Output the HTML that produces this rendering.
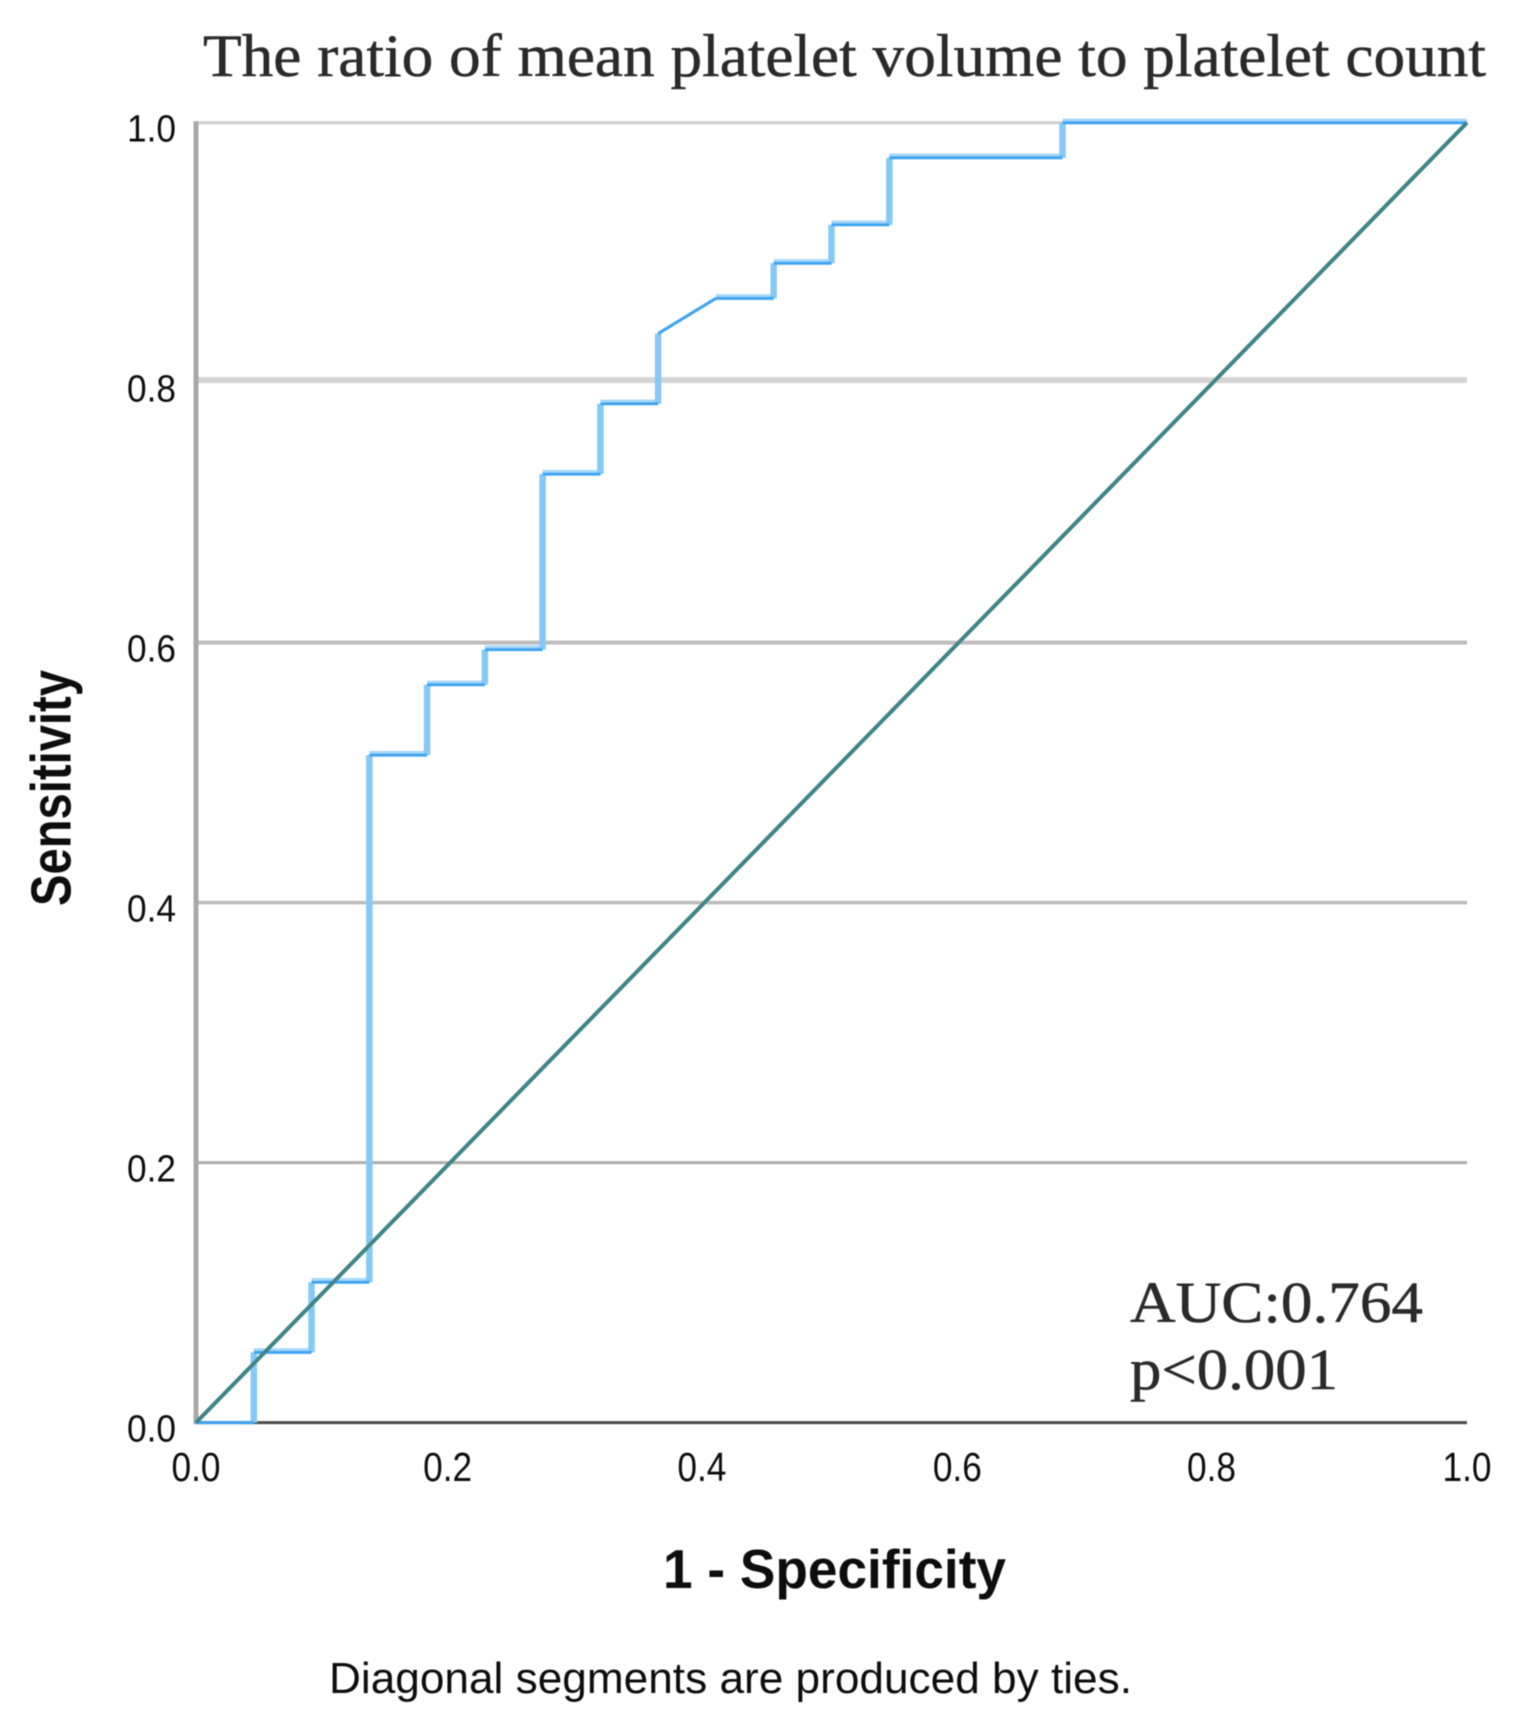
<!DOCTYPE html>
<html>
<head>
<meta charset="utf-8">
<title>ROC curve</title>
<style>
html,body{margin:0;padding:0;background:#fff;}
svg{display:block;}
text{fill:#111;font-family:"Liberation Sans",sans-serif;}
.serif{font-family:"Liberation Serif",serif;fill:#2a2a2a;stroke:#2a2a2a;stroke-width:0.5;}
.bold{font-weight:bold;fill:#0a0a0a;}
.grid{fill:none;}
.grid-0{stroke:#adadad;stroke-width:3;}
.grid-1{stroke:#bcbcbc;stroke-width:3.5;}
.grid-2{stroke:#bdbdbd;stroke-width:4;}
.grid-3{stroke:#d4d4d4;stroke-width:6;}
.grid-4{stroke:#cfcfcf;stroke-width:3;}
.seg-v{stroke:#86c9f6;stroke-width:6.5;}
.seg-h{stroke:#a9d9f8;stroke-width:5.5;}
.seg-core{stroke:#3ea4f0;stroke-width:3;}
</style>
</head>
<body>
<svg id="chart" width="1528" height="1732" viewBox="0 0 1528 1732" xmlns="http://www.w3.org/2000/svg">
  <defs><filter id="soft" x="-5%" y="-5%" width="110%" height="110%"><feGaussianBlur stdDeviation="0.6"/></filter></defs>
  <rect x="0" y="0" width="1528" height="1732" fill="#fff"/>
  <g id="root" filter="url(#soft)">
    <g id="grid"></g>
    <g id="axes"></g>
    <g id="curve"></g>
    <g id="reference"></g>
    <g id="ticks"></g>
    <text class="serif" x="203" y="76" font-size="60" textLength="1283" lengthAdjust="spacingAndGlyphs">The ratio of mean platelet volume to platelet count</text>
    <text class="bold" x="663" y="1588" font-size="55" textLength="343" lengthAdjust="spacingAndGlyphs">1 - Specificity</text>
    <text class="bold" transform="translate(70.5 906) rotate(-90)" x="0" y="0" font-size="57" textLength="236" lengthAdjust="spacingAndGlyphs">Sensitivity</text>
    <text x="329" y="1693" font-size="44" textLength="803" lengthAdjust="spacingAndGlyphs">Diagonal segments are produced by ties.</text>
    <text class="serif" x="1130" y="1322" font-size="58" textLength="293" lengthAdjust="spacingAndGlyphs">AUC:0.764</text>
    <text class="serif" x="1130" y="1389" font-size="58" textLength="208" lengthAdjust="spacingAndGlyphs">p&lt;0.001</text>
  </g>
</svg>
<script>
var curveFpr = [0,0.0455,0.0455,0.0909,0.0909,0.1364,0.1364,0.1818,0.1818,0.2273,0.2273,0.2727,0.2727,0.3182,0.3182,0.3636,0.3636,0.4091,0.4545,0.4545,0.5,0.5,0.5455,0.5455,0.6818,0.6818,1];
var curveTpr = [0,0,0.054,0.054,0.108,0.108,0.5135,0.5135,0.5676,0.5676,0.5946,0.5946,0.7297,0.7297,0.7838,0.7838,0.8378,0.8649,0.8649,0.8919,0.8919,0.9215,0.9215,0.973,0.973,1,1];
var diagonalValues = [0,1];
var gridValues = [0.2,0.4,0.6,0.802,1.0];
var xTickValues = [0,0.198,0.398,0.599,0.799,1];
var xTickLabels = ["0.0","0.2","0.4","0.6","0.8","1.0"];
var yTickValues = [0,0.2,0.4,0.6,0.8,1];
var yTickLabels = ["0.0","0.2","0.4","0.6","0.8","1.0"];

var NS = "http://www.w3.org/2000/svg";
var left = 196, right = 1467, top_ = 122.7, bottom = 1422.6;
function xScale(v){ return left + (right - left) * v; }
function yScale(v){ return bottom - (bottom - top_) * v; }
function make(tag, parent){
  var el = document.createElementNS(NS, tag);
  parent.appendChild(el);
  return el;
}
function line(parent, x1, y1, x2, y2){
  var el = make("line", parent);
  el.setAttribute("x1", x1);
  el.setAttribute("y1", y1);
  el.setAttribute("x2", x2);
  el.setAttribute("y2", y2);
  return el;
}

var gridG = document.getElementById("grid");
gridValues.forEach(function(v, i){
  var g = line(gridG, left, yScale(v), right, yScale(v));
  g.setAttribute("class", "grid grid-" + i);
  
  
});

var axesG = document.getElementById("axes");
var yAxis = line(axesG, left, top_ - 1.5, left, bottom + 1.5);
yAxis.setAttribute("stroke", "#a9a9a9");
yAxis.setAttribute("stroke-width", "5");


var xAxis = line(axesG, left, bottom, right, bottom);
xAxis.setAttribute("stroke", "#4a4a4a");
xAxis.setAttribute("stroke-width", "3");



var curveG = document.getElementById("curve");
var i;
for (i = 0; i < curveFpr.length - 1; i++) {
  var isHorizontal = curveTpr[i] === curveTpr[i+1];
  var isVertical = curveFpr[i] === curveFpr[i+1];
  if (isHorizontal && curveTpr[i] === 0) { continue; }
  var band = line(curveG, xScale(curveFpr[i]), yScale(curveTpr[i]), xScale(curveFpr[i+1]), yScale(curveTpr[i+1]));
  band.setAttribute("class", isVertical ? "seg-v" : "seg-h");
  if (isHorizontal) { band.setAttribute("transform", "translate(0 -1.5)"); }
  if (!isHorizontal && !isVertical) { band.setAttribute("class", "seg-core"); }
  
  
}
for (i = 0; i < curveFpr.length - 1; i++) {
  if (curveTpr[i] === curveTpr[i+1]) {
    var core = line(curveG, xScale(curveFpr[i]), yScale(curveTpr[i]), xScale(curveFpr[i+1]), yScale(curveTpr[i+1]));
    core.setAttribute("class", "seg-core");
    
    
  }
}

var refG = document.getElementById("reference");
var diag = line(refG, xScale(diagonalValues[0]), yScale(diagonalValues[0]), xScale(diagonalValues[1]), yScale(diagonalValues[1]));
diag.setAttribute("stroke", "#3f8586");
diag.setAttribute("stroke-width", "4");



var ticksG = document.getElementById("ticks");
xTickValues.forEach(function(v, k){
  var t = make("text", ticksG);
  t.textContent = xTickLabels[k];
  t.setAttribute("x", xScale(v) - 24.5);
  t.setAttribute("y", 1481);
  t.setAttribute("font-size", "41");
  t.setAttribute("textLength", "49");
  t.setAttribute("lengthAdjust", "spacingAndGlyphs");
  
  
});
yTickValues.forEach(function(v, k){
  var t = make("text", ticksG);
  t.textContent = yTickLabels[k];
  t.setAttribute("x", 127);
  t.setAttribute("y", yScale(v) + 19);
  t.setAttribute("font-size", "38");
  t.setAttribute("textLength", "49");
  t.setAttribute("lengthAdjust", "spacingAndGlyphs");
  
  
});
</script>
</body>
</html>
